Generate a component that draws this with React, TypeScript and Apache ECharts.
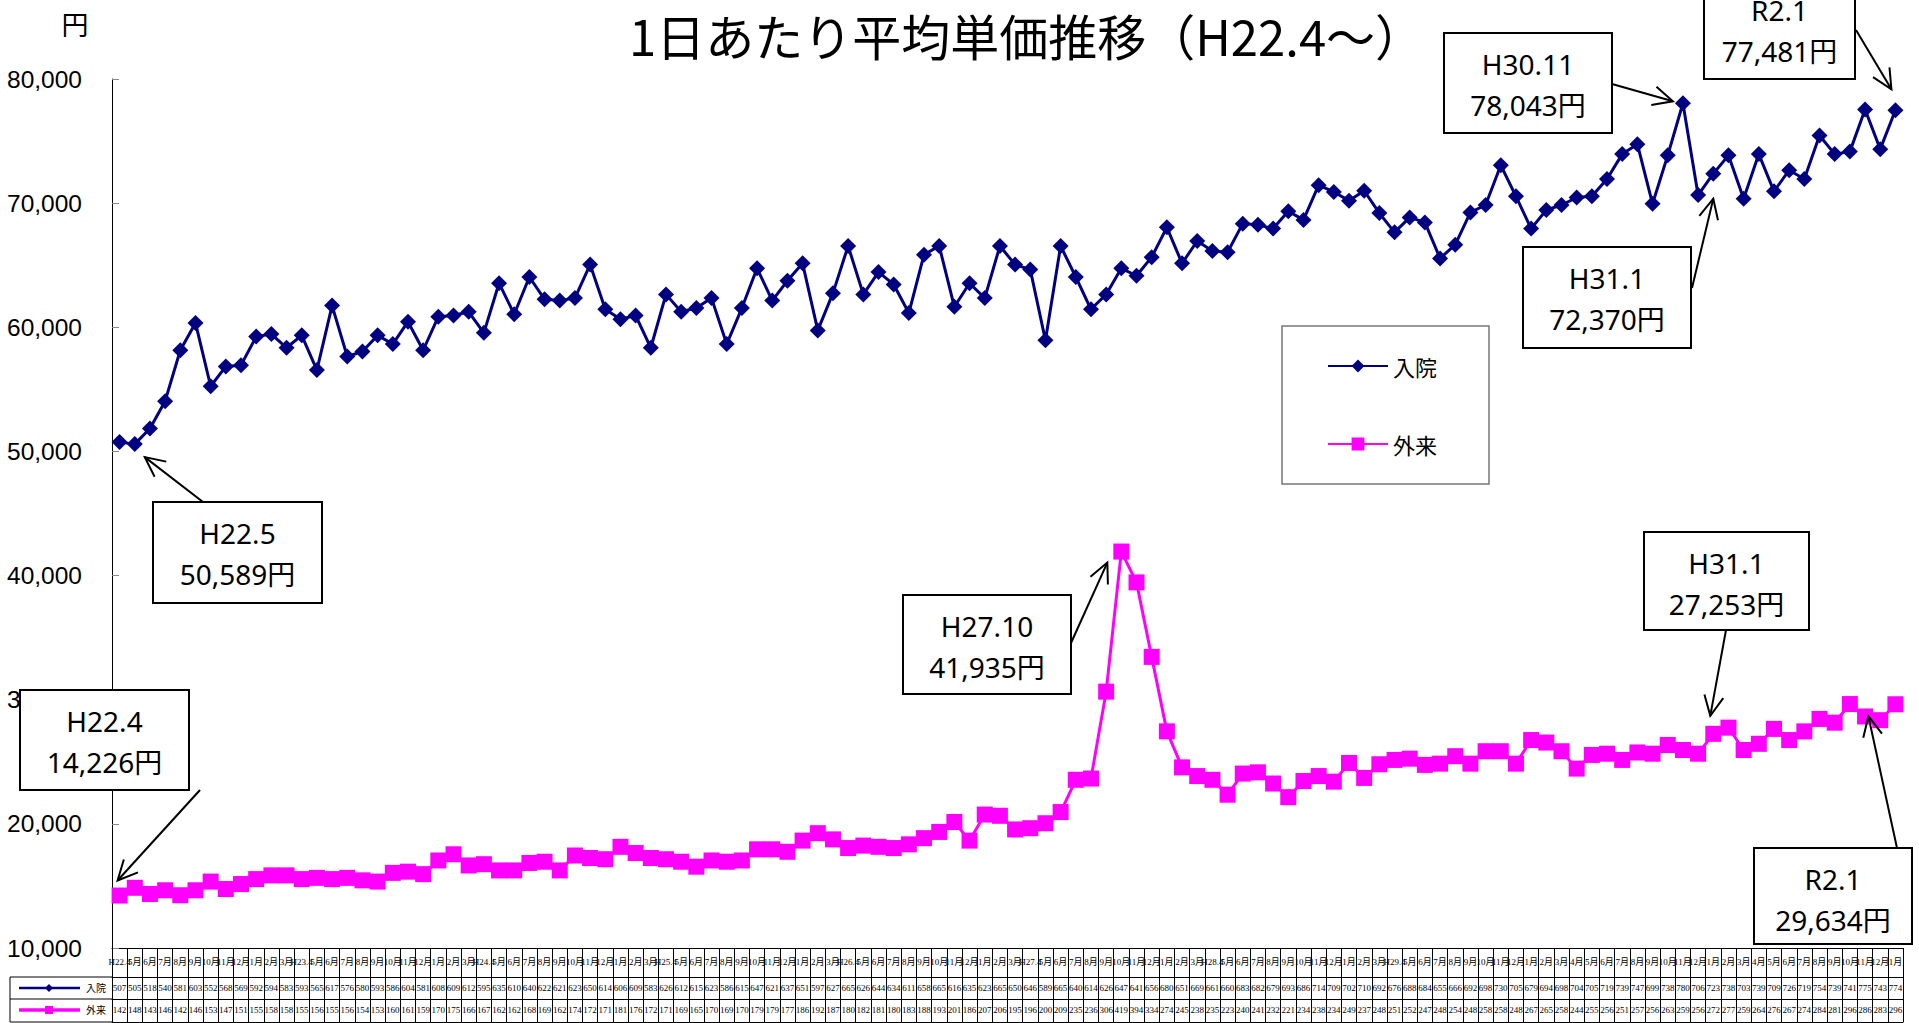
import React, { useEffect, useRef } from 'react';
import * as echarts from 'echarts';

const title = '1日あたり平均単価推移（H22.4～）';
const unitLabel = '円';
const seriesNames = ['入院', '外来'];

const monthsAfterApril = ['5月', '6月', '7月', '8月', '9月', '10月', '11月', '12月', '1月', '2月', '3月'];
const categories: string[] = [
  'H22.4', ...monthsAfterApril,
  'H23.4', ...monthsAfterApril,
  'H24.4', ...monthsAfterApril,
  'H25.4', ...monthsAfterApril,
  'H26.4', ...monthsAfterApril,
  'H27.4', ...monthsAfterApril,
  'H28.4', ...monthsAfterApril,
  'H29.4', ...monthsAfterApril,
  '4月', ...monthsAfterApril,
  '4月', '5月', '6月', '7月', '8月', '9月', '10月', '11月', '12月', '1月',
];

const inpatient = [
  50750, 50589, 51850, 54050, 58150, 60350, 55250, 56850, 56950, 59250, 59450, 58350,
  59350, 56550, 61750, 57650, 58050, 59350, 58650, 60450, 58150, 60850, 60950, 61250,
  59550, 63550, 61050, 64050, 62250, 62150, 62350, 65050, 61450, 60650, 60950, 58350,
  62650, 61250, 61550, 62350, 58650, 61550, 64750, 62150, 63750, 65150, 59750, 62750,
  66550, 62650, 64450, 63450, 61150, 65850, 66550, 61650, 63550, 62350, 66550, 65050,
  64650, 58950, 66550, 64050, 61450, 62650, 64750, 64150, 65650, 68050, 65150, 66950,
  66150, 66050, 68350, 68250, 67950, 69350, 68650, 71450, 70900, 70200, 71000, 69200,
  67650, 68850, 68450, 65550, 66650, 69250, 69850, 73050, 70550, 67950, 69450, 69850,
  70450, 70550, 71950, 73950, 74750, 69950, 73850, 78043, 70650, 72370, 73850, 70350,
  73950, 70950, 72650, 71950, 75450, 73950, 74150, 77550, 74350, 77481,
];

const outpatient = [
  14226, 14850, 14350, 14650, 14250, 14650, 15350, 14750, 15150, 15550, 15850, 15850,
  15550, 15650, 15550, 15650, 15450, 15350, 16050, 16150, 15950, 17050, 17550, 16650,
  16750, 16250, 16250, 16850, 16950, 16250, 17450, 17250, 17150, 18150, 17650, 17250,
  17150, 16950, 16550, 17050, 16950, 17050, 17950, 17950, 17750, 18650, 19250, 18750,
  18050, 18250, 18150, 18050, 18350, 18850, 19350, 20150, 18650, 20750, 20650, 19550,
  19650, 20050, 20950, 23550, 23650, 30650, 41935, 39450, 33450, 27450, 24550, 23850,
  23550, 22350, 24050, 24150, 23250, 22150, 23450, 23850, 23400, 24900, 23700, 24800,
  25150, 25250, 24750, 24850, 25450, 24850, 25850, 25850, 24850, 26750, 26550, 25850,
  24450, 25550, 25650, 25150, 25750, 25650, 26350, 25950, 25650, 27253, 27750, 25950,
  26450, 27650, 26750, 27450, 28450, 28150, 29650, 28650, 28350, 29634,
];

const yMin = 10000;
const yMax = 80000;
const yStep = 10000;

// annotation callouts: which point, its label
const annotations = [
  { label: 'H22.4', series: 1, index: 0 },
  { label: 'H22.5', series: 0, index: 1 },
  { label: 'H27.10', series: 1, index: 66 },
  { label: 'H30.11', series: 0, index: 103 },
  { label: 'R2.1', series: 0, index: 117 },
  { label: 'H31.1', series: 0, index: 105 },
  { label: 'H31.1', series: 1, index: 105 },
  { label: 'R2.1', series: 1, index: 117 },
];
// callout layout (box, arrow start, arrow-tip offset from the point)
const calloutLayout = [
  { box: [20, 690, 169, 100], from: [200, 790], tip: [-2, -15] },
  { box: [153, 502, 169, 101], from: [203, 502], tip: [10, 13] },
  { box: [903, 595, 168, 99], from: [1071, 643], tip: [-14, 11] },
  { box: [1444, 33, 168, 100], from: [1612, 84], tip: [-10, -2] },
  { box: [1704, -21, 151, 100], from: [1856, 30], tip: [-4, -21] },
  { box: [1523, 247, 168, 101], from: [1692, 288], tip: [0, 25] },
  { box: [1644, 532, 165, 98], from: [1726, 630], tip: [-3, -18] },
  { box: [1754, 848, 158, 96], from: [1897, 848], tip: [-27, 12] },
];

const NAVY = '#000080';
const MAGENTA = '#FF00FF';
const tableFont = "'Liberation Serif', 'Noto Sans CJK JP', serif";
const calloutFont = "'Noto Sans', 'Noto Sans CJK JP', sans-serif";

const fmt = (v: number) => v.toLocaleString('en-US');
const cellText = (v: number) => String(Math.floor(v / 100));

function arrowParts(sx: number, sy: number, tx: number, ty: number) {
  const ang = Math.atan2(ty - sy, tx - sx);
  const L = 22;
  const a = 0.45;
  const p1 = [tx - L * Math.cos(ang - a), ty - L * Math.sin(ang - a)];
  const p2 = [tx - L * Math.cos(ang + a), ty - L * Math.sin(ang + a)];
  return [
    { type: 'line', z: 100, shape: { x1: sx, y1: sy, x2: tx, y2: ty }, style: { stroke: '#000', lineWidth: 2 } },
    { type: 'polyline', z: 100, shape: { points: [p1, [tx, ty], p2] }, style: { stroke: '#000', lineWidth: 2, fill: 'none' } },
  ];
}

function textEl(x: number, y: number, text: string, fontSize: number, fontFamily: string, align = 'center') {
  return {
    type: 'text',
    z: 101,
    x,
    y,
    style: {
      text,
      fontSize,
      fontFamily,
      fill: '#000',
      align,
      textAlign: align,
      verticalAlign: 'middle',
      textVerticalAlign: 'middle',
    },
  };
}

const baseXAxis = {
  type: 'category',
  data: categories,
  boundaryGap: true,
  position: 'bottom',
  gridIndex: 0,
  axisLine: { show: true, lineStyle: { color: '#000', width: 1 } },
  splitLine: { show: false },
};

export default function App() {
  const ref = useRef<HTMLDivElement>(null);

  useEffect(() => {
    const chart = echarts.init(ref.current!, null, { renderer: 'svg' });
    const option: any = {
      animation: false,
      backgroundColor: '#fff',
      title: {
        text: title,
        left: 624,
        top: 5,
        textStyle: { fontSize: 49, fontWeight: 'normal', color: '#000', fontFamily: "'Noto Sans CJK JP', sans-serif" },
      },
      legend: {
        data: seriesNames,
        orient: 'vertical',
        left: 1282,
        top: 326,
        padding: [29, 52, 29, 45],
        itemGap: 56,
        itemWidth: 60,
        itemHeight: 16,
        borderColor: '#777',
        borderWidth: 1.5,
        backgroundColor: '#fff',
        selectedMode: false,
        textStyle: { fontSize: 22, color: '#000', fontFamily: "'Noto Sans CJK JP', sans-serif" },
      },
      grid: { left: 112, right: 16, top: 79, bottom: 75, containLabel: false },
      xAxis: [
        {
          ...baseXAxis,
          axisTick: { show: true, interval: 0, length: 29, lineStyle: { color: '#000' } },
          axisLabel: { interval: 0, fontSize: 9, margin: 9, color: '#000', fontFamily: tableFont },
        },
        {
          ...baseXAxis,
          offset: 29,
          axisTick: { show: true, interval: 0, length: 22, lineStyle: { color: '#000' } },
          axisLabel: {
            interval: 0, fontSize: 9, margin: 6, color: '#000', fontFamily: tableFont,
            formatter: (_v: string, i: number) => cellText(inpatient[i]),
          },
        },
        {
          ...baseXAxis,
          offset: 51,
          axisTick: { show: true, interval: 0, length: 23, lineStyle: { color: '#000' } },
          axisLabel: {
            interval: 0, fontSize: 9, margin: 6, color: '#000', fontFamily: tableFont,
            formatter: (_v: string, i: number) => cellText(outpatient[i]),
          },
        },
        {
          ...baseXAxis,
          offset: 74,
          axisTick: { show: false },
          axisLabel: { show: false },
        },
      ],
      yAxis: {
        type: 'value',
        min: yMin,
        max: yMax,
        interval: yStep,
        axisLine: { show: true, lineStyle: { color: '#000', width: 1 } },
        axisTick: { show: true, inside: true, length: 7, lineStyle: { color: '#888' } },
        splitLine: { show: false },
        axisLabel: {
          margin: 30,
          fontSize: 24.5,
          color: '#000',
          fontFamily: "'Liberation Sans', Arial, sans-serif",
          formatter: (v: number) => fmt(v),
        },
      },
      series: [
        {
          name: seriesNames[0],
          type: 'line',
          data: inpatient,
          xAxisIndex: 0,
          yAxisIndex: 0,
          symbol: 'diamond',
          symbolSize: 16,
          lineStyle: { color: NAVY, width: 3 },
          itemStyle: { color: NAVY },
          z: 3,
        },
        {
          name: seriesNames[1],
          type: 'line',
          data: outpatient,
          xAxisIndex: 0,
          yAxisIndex: 0,
          symbol: 'rect',
          symbolSize: 16,
          lineStyle: { color: MAGENTA, width: 3 },
          itemStyle: { color: MAGENTA },
          z: 3,
        },
      ],
    };
    chart.setOption(option);

    const graphics: any[] = [];
    // unit label
    graphics.push(textEl(75, 23, unitLabel, 27, "'Noto Sans CJK JP', sans-serif"));

    // data table left column (legend keys)
    const lineStyle = { stroke: '#000', lineWidth: 1 };
    [977, 999, 1022].forEach((y) => {
      graphics.push({ type: 'line', shape: { x1: 10, y1: y, x2: 112, y2: y }, style: lineStyle });
    });
    graphics.push({ type: 'line', shape: { x1: 10, y1: 977, x2: 10, y2: 1022 }, style: lineStyle });
    graphics.push({ type: 'line', shape: { x1: 19, y1: 988, x2: 80, y2: 988 }, style: { stroke: NAVY, lineWidth: 2.5 } });
    graphics.push({ type: 'polygon', shape: { points: [[49, 984], [53, 988], [49, 992], [45, 988]] }, style: { fill: NAVY } });
    graphics.push(textEl(86, 988, seriesNames[0], 10, tableFont, 'left'));
    graphics.push({ type: 'line', shape: { x1: 19, y1: 1010, x2: 80, y2: 1010 }, style: { stroke: MAGENTA, lineWidth: 3.5 } });
    graphics.push({ type: 'rect', shape: { x: 45, y: 1006, width: 8, height: 8 }, style: { fill: MAGENTA } });
    graphics.push(textEl(86, 1010, seriesNames[1], 10, tableFont, 'left'));

    // callouts
    annotations.forEach((a, k) => {
      const lay = calloutLayout[k];
      const value = a.series === 0 ? inpatient[a.index] : outpatient[a.index];
      const pt = chart.convertToPixel({ xAxisIndex: 0, yAxisIndex: 0 }, [a.index, value]) as number[];
      const [bx, by, bw, bh] = lay.box;
      graphics.push({
        type: 'rect',
        z: 100,
        shape: { x: bx, y: by, width: bw, height: bh },
        style: { fill: '#fff', stroke: '#000', lineWidth: 2 },
      });
      graphics.push(textEl(bx + bw / 2, by + 31, a.label, 28, calloutFont));
      graphics.push(textEl(bx + bw / 2, by + 72, fmt(value) + '円', 28, calloutFont));
      graphics.push(...arrowParts(lay.from[0], lay.from[1], pt[0] + lay.tip[0], pt[1] + lay.tip[1]));
    });

    chart.setOption({ graphic: graphics });

    return () => chart.dispose();
  }, []);

  return (
    <div
      ref={ref}
      style={{ position: 'fixed', left: 0, top: 0, width: 1919, height: 1023, background: '#fff' }}
    />
  );
}
